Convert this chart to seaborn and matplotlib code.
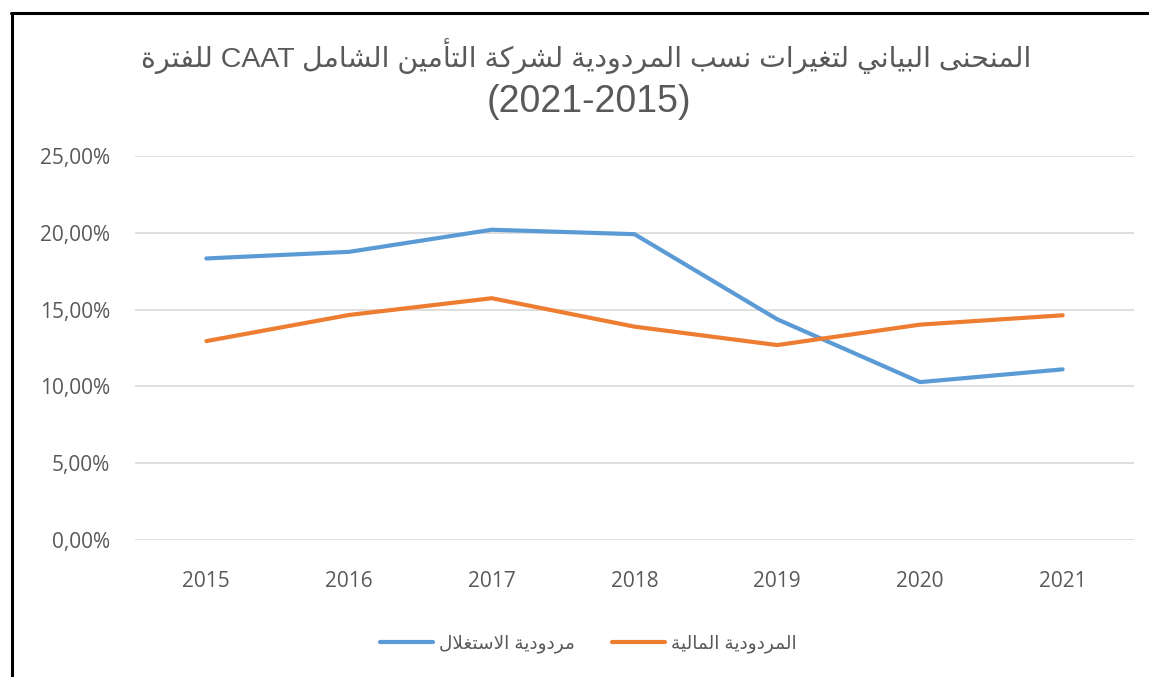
import pandas as pd
import seaborn as sns
import matplotlib
matplotlib.use("Agg")
import matplotlib.pyplot as plt
from matplotlib.ticker import FuncFormatter
from matplotlib.lines import Line2D

# data (percent)
years = [2015, 2016, 2017, 2018, 2019, 2020, 2021]
rent_exploit = [18.33, 18.76, 20.20, 19.91, 14.37, 10.28, 11.11]
rent_financ = [12.95, 14.65, 15.74, 13.89, 12.69, 14.02, 14.63]

title_l1 = "المنحنى البياني لتغيرات نسب المردودية لشركة التأمين الشامل CAAT للفترة"
title_l2 = "(2021-2015)"
lab_exploit = "مردودية الاستغلال"
lab_financ = "المردودية المالية"

# matplotlib does no arabic shaping / bidi, so do a small one by hand
FORMS = {
    'ا': (0xFE8D, False), 'أ': (0xFE83, False), 'ب': (0xFE8F, True), 'ة': (0xFE93, False),
    'ت': (0xFE95, True), 'ح': (0xFEA1, True), 'د': (0xFEA9, False), 'ر': (0xFEAD, False),
    'س': (0xFEB1, True), 'ش': (0xFEB5, True), 'غ': (0xFECD, True), 'ف': (0xFED1, True),
    'ك': (0xFED9, True), 'ل': (0xFEDD, True), 'م': (0xFEE1, True), 'ن': (0xFEE5, True),
    'و': (0xFEED, False), 'ى': (0xFEEF, False), 'ي': (0xFEF1, True),
    'لا': (0xFEFB, False), 'لأ': (0xFEF7, False),
}


def shape_word(w):
    toks = []
    i = 0
    while i < len(w):
        if w[i] == 'ل' and i + 1 < len(w) and w[i + 1] in 'اأ':
            toks.append(w[i:i + 2])
            i += 2
        else:
            toks.append(w[i])
            i += 1
    out = []
    for j, t in enumerate(toks):
        base, dual = FORMS[t]
        pj = j > 0 and FORMS[toks[j - 1]][1]
        nj = dual and j < len(toks) - 1
        if pj and nj:
            cp = base + 3
        elif pj:
            cp = base + 1
        elif nj:
            cp = base + 2
        else:
            cp = base
        out.append(chr(cp))
    return ''.join(out)[::-1]


def shape(s):
    words = s.split(' ')
    res = []
    for w in reversed(words):
        if w and w[0] in FORMS:
            res.append(shape_word(w))
        else:
            res.append(w)
    return ' '.join(res)


df = pd.DataFrame({
    "year": years * 2,
    "value": rent_exploit + rent_financ,
    "serie": [lab_exploit] * len(years) + [lab_financ] * len(years),
})

sns.set_style("white")
plt.rcParams['font.family'] = ['Liberation Sans', 'DejaVu Sans']

fig = plt.figure(figsize=(11.49, 6.77), dpi=100)
ax = fig.add_axes([135 / 1149, 137 / 677, 999 / 1149, 384 / 677])

pal = {lab_exploit: "#5B9BD5", lab_financ: "#ED7D31"}
sns.lineplot(data=df, x="year", y="value", hue="serie", palette=pal, linewidth=3.0,
             ax=ax, legend=False, solid_capstyle="round")

ax.set_xlim(2014.5, 2021.5)
ax.set_ylim(0, 25)
ax.set_yticks([0, 5, 10, 15, 20, 25])
ax.set_xticks(years)
ax.yaxis.set_major_formatter(FuncFormatter(lambda v, p: f"{v:.2f}%".replace('.', ',')))
ax.grid(axis='y', color="#D9D9D9", linewidth=1.2)
ax.grid(axis='x', visible=False)
for sp in ax.spines.values():
    sp.set_visible(False)
ax.tick_params(axis='both', length=0, labelsize=15, labelcolor="#595959")
ax.tick_params(axis='y', pad=18)
ax.tick_params(axis='x', pad=22)
for lab in ax.get_xticklabels() + ax.get_yticklabels():
    lab.set_family(['Open Sans', 'DejaVu Sans'])
ax.set_xlabel("")
ax.set_ylabel("")

fig.text(586 / 1149, 1 - 56 / 677, shape(title_l1), ha='center', va='center',
         fontsize=20.5, color="#595959")
fig.text(589 / 1149, 1 - 102 / 677, title_l2, ha='center', va='center',
         fontsize=27, color="#595959")

handles = [Line2D([0], [0], color=pal[lab_exploit], lw=3.0, solid_capstyle="round"),
           Line2D([0], [0], color=pal[lab_financ], lw=3.0, solid_capstyle="round")]
fig.legend(handles, [shape(lab_exploit), shape(lab_financ)], loc='center',
           bbox_to_anchor=(588 / 1149, 1 - 644 / 677), ncol=2, frameon=False,
           fontsize=13.3, labelcolor="#595959", handlelength=2.9, handletextpad=0.3,
           columnspacing=2.0)

# black frame on left and top
fig.add_artist(Line2D([11.5 / 1149, 11.5 / 1149], [0, 1 - 13 / 677], color='black',
                      lw=2.2, transform=fig.transFigure))
fig.add_artist(Line2D([10.5 / 1149, 1], [1 - 13 / 677, 1 - 13 / 677], color='black',
                      lw=2.2, transform=fig.transFigure))

fig.savefig("out.png", dpi=100)
